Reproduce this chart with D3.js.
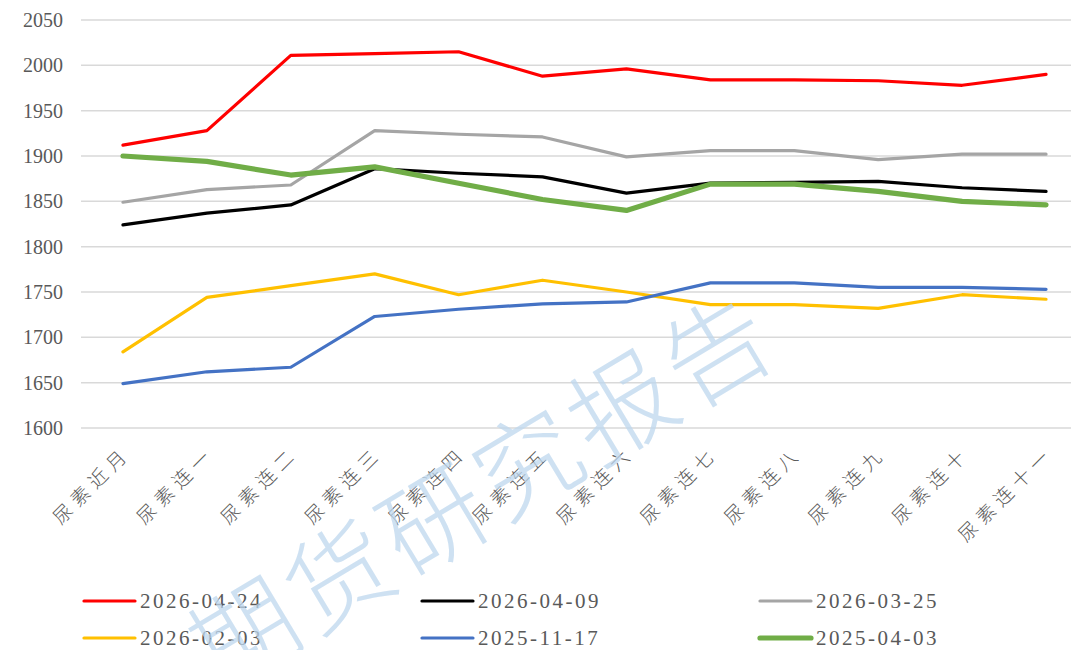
<!DOCTYPE html>
<html>
<head>
<meta charset="utf-8">
<script src="https://cdn.jsdelivr.net/npm/d3@7.9.0/dist/d3.min.js"></script>
<style>
  body { margin: 0; background: #fff; }
  svg { display: block; }
</style>
</head>
<body>
<svg id="chart" width="1071" height="650"></svg>
<script>
const categories = ["尿素近月", "尿素连一", "尿素连二", "尿素连三", "尿素连四", "尿素连五",
  "尿素连六", "尿素连七", "尿素连八", "尿素连九", "尿素连十", "尿素连十一"];
const yTicks = [1600, 1650, 1700, 1750, 1800, 1850, 1900, 1950, 2000, 2050];

const s20260424 = [1912, 1928, 2011, 2013, 2015, 1988, 1996, 1984, 1984, 1983, 1978, 1990];
const s20260409 = [1824, 1837, 1846, 1886, 1881, 1877, 1859, 1870, 1871, 1872, 1865, 1861];
const s20260325 = [1849, 1863, 1868, 1928, 1924, 1921, 1899, 1906, 1906, 1896, 1902, 1902];
const s20260203 = [1684, 1744, 1757, 1770, 1747, 1763, 1750, 1736, 1736, 1732, 1747, 1742];
const s20251117 = [1649, 1662, 1667, 1723, 1731, 1737, 1739, 1760, 1760, 1755, 1755, 1753];
const s20250403 = [1900, 1894, 1879, 1888, 1870, 1852, 1840, 1869, 1869, 1861, 1850, 1846];

const series = [
  { name: "2026-04-24", values: s20260424, color: "#FF0000", width: 3.2 },
  { name: "2026-04-09", values: s20260409, color: "#000000", width: 3.2 },
  { name: "2026-03-25", values: s20260325, color: "#A5A5A5", width: 3.2 },
  { name: "2026-02-03", values: s20260203, color: "#FFC000", width: 3.2 },
  { name: "2025-11-17", values: s20251117, color: "#4472C4", width: 3.2 },
  { name: "2025-04-03", values: s20250403, color: "#70AD47", width: 5.2 }
];

const svg = d3.select("#chart");
const serif = "'Liberation Serif', 'Times New Roman', 'Noto Sans CJK SC', serif";
const cjk = "'Noto Sans CJK SC', sans-serif";

const x = d3.scaleBand().domain(categories).range([81, 1088]);
const y = d3.scaleLinear().domain([1600, 2050]).range([428, 20]);
const cx = d => x(d) + x.bandwidth() / 2;

// gridlines
svg.append("g")
  .selectAll("line")
  .data(yTicks)
  .join("line")
  .attr("x1", 81).attr("x2", 1071)
  .attr("y1", d => y(d)).attr("y2", d => y(d))
  .attr("stroke", "#D9D9D9")
  .attr("stroke-width", 1.5);

// y axis labels
svg.append("g")
  .selectAll("text")
  .data(yTicks)
  .join("text")
  .attr("x", 63)
  .attr("y", d => y(d))
  .attr("dy", "0.35em")
  .attr("text-anchor", "end")
  .style("font-family", serif)
  .style("font-size", "20px")
  .style("fill", "#595959")
  .text(d => d);

// x axis labels
svg.append("g")
  .selectAll("text")
  .data(categories)
  .join("text")
  .attr("transform", d => `translate(${cx(d) + 4},${450}) rotate(-45)`)
  .attr("text-anchor", "end")
  .attr("dy", "0.35em")
  .style("font-family", cjk)
  .style("font-weight", 300)
  .style("font-size", "19px")
  .style("letter-spacing", "6px")
  .style("fill", "#595959")
  .text(d => d);

// lines
const line = d3.line()
  .x((d, i) => cx(categories[i]))
  .y(d => y(d));

svg.append("g")
  .selectAll("path")
  .data(series)
  .join("path")
  .attr("d", d => line(d.values))
  .attr("fill", "none")
  .attr("stroke", d => d.color)
  .attr("stroke-width", d => d.width)
  .attr("stroke-linejoin", "round")
  .attr("stroke-linecap", "round");

// legend
const legendCols = [82, 420, 758];
const legendRows = [601, 638];
const legend = svg.append("g")
  .selectAll("g")
  .data(series)
  .join("g")
  .attr("transform", (d, i) => `translate(${legendCols[i % 3]},${legendRows[Math.floor(i / 3)]})`);

legend.append("line")
  .attr("x1", 2).attr("x2", 53)
  .attr("stroke", d => d.color)
  .attr("stroke-width", d => d.width)
  .attr("stroke-linecap", "round");

legend.append("text")
  .attr("x", 58)
  .attr("dy", "0.35em")
  .style("font-family", serif)
  .style("font-size", "21px")
  .style("letter-spacing", "2.5px")
  .style("fill", "#595959")
  .text(d => d.name);

// watermark
svg.append("text")
  .attr("transform", "translate(484,492) rotate(-31)")
  .attr("text-anchor", "middle")
  .attr("dy", "0.35em")
  .style("font-family", cjk)
  .style("font-weight", 300)
  .style("font-size", "104px")
  .style("letter-spacing", "6px")
  .style("fill", "#BDD7EE")
  .style("fill-opacity", 0.75)
  .text("期货研究报告");
</script>
</body>
</html>
